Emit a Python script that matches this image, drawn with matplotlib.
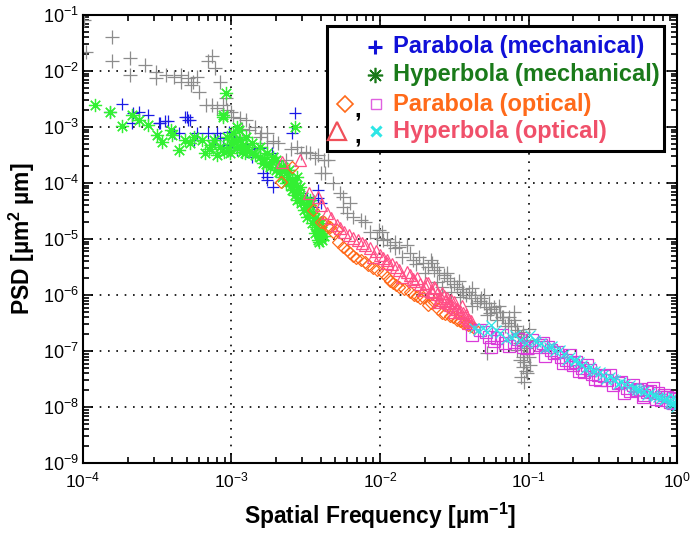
import numpy as np
import matplotlib
matplotlib.use("Agg")
import matplotlib.pyplot as plt
from matplotlib.patches import Rectangle

plt.rcParams['font.family'] = ['Liberation Sans', 'DejaVu Sans']
plt.rcParams['mathtext.fontset'] = 'custom'
plt.rcParams['mathtext.rm'] = 'Liberation Sans'
plt.rcParams['mathtext.bf'] = 'Liberation Sans:bold'

# values, as log10(frequency), log10(PSD)
gray_lf = [-3.99, -3.98, -3.805, -3.805, -3.68, -3.68, -3.58, -3.51, -3.51, -3.44, -3.39, -3.34, -3.34,
           -3.29, -3.26, -3.23, -3.27, -3.22, -3.16, -3.13, -3.11, -3.08, -3.04, -3.17, -3.13, -3.10,
           -3.06, -3.03, -3.00, -2.99, -2.94, -2.90, -2.84, -2.81, -2.76, -2.76, -2.69, -2.63, -2.56,
           -2.53, -2.47, -2.42, -2.38, -2.35, -2.40, -2.37, -2.32, -2.27, -2.25, -2.22, -2.25, -2.20,
           -2.18, -2.13, -2.10, -2.07, -2.01, -1.99, -2.02, -1.98, -1.93, -1.90, -1.87, -1.85, -1.82,
           -1.78, -1.74, -1.71, -1.70, -1.66, -1.65, -1.64, -1.62, -1.62, -1.58, -1.55, -1.52, -1.50,
           -1.46, -1.45, -1.42, -1.39, -1.38, -1.35, -1.32, -1.29, -1.28, -1.26, -1.23, -1.21, -1.18,
           -1.16, -1.14, -1.10, -1.08, -1.05, -1.03, -1.01, -1.28, -1.08, -1.06, -1.04, -1.01, -1.05,
           -1.00, -1.03, -0.99, -2.93, -2.88, -2.80, -2.72, -2.60, -2.50, -2.44,
           -1.95, -1.90, -1.80, -1.76, -1.68, -1.60, -1.57, -1.53, -1.48, -1.44, -1.40, -1.36, -1.33,
           -1.30, -1.27, -1.25, -1.22, -1.19, -1.17, -1.13, -1.12, -1.09, -1.07, -1.06, -1.04, -1.02,
           -1.01, -1.03, -1.00, -1.02, -1.04, -1.55, -1.47, -1.38, -1.30, -1.20, -1.10]
gray_lp = [-1.09, -1.67, -1.39, -1.82, -1.76, -2.07, -1.89, -2.01, -2.13, -2.07, -2.10, -2.07, -2.19,
           -2.13, -2.19, -2.10, -2.25, -2.37, -1.83, -1.74, -1.95, -2.19, -2.49, -2.61, -2.61, -2.67,
           -2.61, -2.70, -2.73, -2.82, -2.84, -2.87, -3.00, -3.18, -3.11, -3.29, -3.29, -3.59, -3.36,
           -3.46, -3.46, -3.50, -3.59, -3.59, -3.82, -3.82, -4.00, -4.18, -4.43, -4.54, -4.25, -4.36,
           -4.61, -4.66, -4.70, -4.88, -4.84, -4.88, -4.98, -5.02, -5.11, -5.16, -5.14, -5.32, -5.11,
           -5.38, -5.32, -5.43, -5.61, -5.38, -5.43, -5.55, -5.50, -5.77, -5.86, -5.70, -5.95, -5.80,
           -6.04, -5.90, -6.00, -6.05, -6.20, -6.14, -6.05, -6.21, -6.35, -6.32, -6.21, -6.45, -6.39,
           -6.55, -6.50, -6.45, -6.63, -6.75, -6.90, -6.80, -7.04, -6.98, -7.16, -7.29, -7.39, -7.46,
           -7.11, -7.55, -7.25, -3.04, -3.05, -3.10, -3.25, -3.40, -3.45, -3.55,
           -5.00, -5.05, -5.25, -5.45, -5.50, -5.60, -5.65, -5.75, -5.85, -5.95, -5.95, -6.00, -6.10,
           -6.15, -6.15, -6.25, -6.30, -6.30, -6.40, -6.40, -6.55, -6.55, -6.70, -6.85, -6.65, -6.95,
           -7.05, -7.20, -6.60, -7.35, -7.10, -5.60, -5.75, -5.88, -6.00, -6.20, -6.30]

par_mech_lf = [-3.74, -3.82, -3.67, -3.62, -3.56, -3.49, -3.45, -3.43, -3.30, -3.29, -3.35, -3.23, -3.16,
               -3.11, -3.10, -3.06, -2.98, -3.00, -3.39, -3.25, -3.66, -3.48, -3.31, -3.28, -3.08, -3.03,
               -2.96, -2.57, -2.59, -2.76, -2.72, -2.76, -2.79, -2.73, -2.54, -2.49, -2.45, -2.42, -2.40,
               -2.45, -2.42, -2.81, -2.86, -2.65, -2.61, -3.02, -2.90, -2.85, -2.70]
par_mech_lp = [-2.59, -2.73, -2.93, -2.73, -2.79, -2.93, -2.90, -2.90, -2.82, -2.88, -3.11, -3.10, -3.10,
               -3.23, -3.11, -3.32, -3.17, -3.41, -3.11, -3.23, -2.75, -2.93, -2.82, -2.88, -3.20, -3.36,
               -3.41, -2.75, -3.11, -3.89, -4.07, -3.95, -3.82, -3.46, -4.18, -4.25, -4.30, -4.27, -4.36,
               -4.43, -4.12, -3.38, -3.54, -3.71, -3.77, -3.09, -3.30, -3.40, -3.60]

hyp_mech_lf = [-3.92, -3.82, -3.74, -3.67, -3.62, -3.56, -3.50, -3.47, -3.41, -3.40, -3.35, -3.31, -3.28,
               -3.25, -3.20, -3.18, -3.13, -3.10, -3.06, -3.03, -3.02, -2.99, -2.96, -2.92, -2.91, -2.99,
               -2.94, -3.01, -2.90, -2.86, -2.81, -2.79, -2.74, -2.70, -2.66, -2.63, -2.59, -2.55, -2.53,
               -2.51, -2.49, -2.46, -2.42, -2.40, -2.42, -2.39, -2.57, -3.06, -2.61, -2.59, -2.56, -2.72,
               -2.76, -2.86, -2.90, -2.81, -2.65, -2.54, -2.47, -2.45, -2.42, -2.44, -2.52, -2.56, -2.63,
               -2.70, -2.96, -3.08, -3.12, -3.04,
               -2.88, -2.84, -2.78, -2.77, -2.73, -2.68, -2.67, -2.62, -2.60, -2.58, -2.57, -2.55, -2.50,
               -2.48, -2.47, -2.44, -2.43, -2.41, -2.40, -2.41, -2.38, -2.39, -3.00, -2.97, -2.93, -3.05,
               -3.15, -2.95]
hyp_mech_lp = [-2.61, -2.74, -2.98, -2.79, -2.88, -2.96, -3.14, -3.26, -3.05, -3.14, -3.41, -3.23, -3.29,
               -3.17, -3.23, -3.47, -3.32, -3.50, -2.79, -3.17, -3.38, -3.23, -3.38, -3.32, -3.46, -3.11,
               -3.23, -3.46, -3.36, -3.46, -3.54, -3.64, -3.71, -3.77, -3.89, -4.00, -4.12, -4.18, -4.36,
               -4.48, -4.61, -4.71, -4.84, -4.96, -5.02, -5.02, -3.00, -2.82, -3.77, -3.95, -3.89, -3.54,
               -3.46, -3.29, -3.18, -3.36, -3.71, -4.07, -4.30, -4.54, -4.66, -4.89, -4.25, -4.30, -3.82,
               -3.59, -3.00, -3.36, -3.23, -2.39,
               -3.42, -3.50, -3.58, -3.66, -3.62, -3.80, -3.72, -3.90, -4.05, -4.00, -4.22, -4.10, -4.38,
               -4.52, -4.40, -4.62, -4.78, -4.90, -4.72, -5.05, -4.95, -4.85, -3.30, -3.25, -3.45, -3.45,
               -3.40, -3.05]

par_opt_lo_lf = [-2.67, -2.59, -2.45, -2.40, -2.35, -2.29, -2.25, -2.38, -2.34, -2.32, -2.20, -2.16, -2.10,
                 -2.05, -1.98, -1.93, -1.91, -1.87, -1.80, -1.75, -1.71, -1.68, -1.64, -1.58, -1.53, -1.48,
                 -1.44, -1.41,
                 -2.28, -2.22, -2.18, -2.13, -2.08, -2.02, -1.95, -1.89, -1.84, -1.77, -1.73, -1.66, -1.61,
                 -1.56, -1.51, -1.46, -1.42, -1.39, -1.37]
par_opt_lo_lp = [-3.98, -3.71, -4.48, -4.70, -4.79, -4.84, -5.14, -4.70, -4.79, -4.88, -5.25, -5.34, -5.41,
                 -5.51, -5.61, -5.75, -5.79, -5.86, -5.95, -6.02, -6.04, -6.18, -6.13, -6.32, -6.38, -6.45,
                 -6.50, -6.54,
                 -5.05, -5.20, -5.30, -5.38, -5.46, -5.55, -5.68, -5.82, -5.90, -6.00, -6.06, -6.15, -6.25,
                 -6.33, -6.40, -6.46, -6.52, -6.56, -6.58]

hyp_opt_lo_lf = [-2.66, -2.54, -2.48, -2.42, -2.36, -2.40, -2.33, -2.29, -2.24, -2.18, -2.12, -2.07, -2.05,
                 -2.00, -1.95, -1.95, -1.89, -1.85, -1.82, -1.78, -1.75, -1.71, -1.68, -1.65, -1.63, -1.60,
                 -1.57, -1.54, -1.51, -1.48, -1.46, -1.44, -1.42, -1.40, -1.41, -1.55, -1.50, -1.45,
                 -2.27, -2.21, -2.15, -2.10, -2.03, -1.98, -1.92, -1.87, -1.80, -1.77, -1.73, -1.70, -1.66,
                 -1.62, -1.59, -1.56, -1.53, -1.49, -1.47, -1.43, -1.41, -1.39, -1.52, -1.58, -1.64, -1.69,
                 -1.61, -1.50]
hyp_opt_lo_lp = [-3.63, -3.59, -4.18, -4.25, -4.54, -4.39, -4.63, -4.75, -4.88, -4.98, -5.07, -5.16, -5.32,
                 -5.29, -5.38, -5.43, -5.50, -5.68, -5.59, -5.72, -5.70, -5.91, -5.79, -5.95, -5.88, -6.09,
                 -6.02, -6.14, -6.21, -6.25, -6.28, -6.32, -6.36, -6.45, -6.50, -6.05, -6.12, -6.20,
                 -4.80, -4.93, -5.02, -5.10, -5.22, -5.33, -5.45, -5.55, -5.65, -5.75, -5.80, -5.86, -5.92,
                 -5.98, -6.05, -6.10, -6.18, -6.24, -6.30, -6.40, -6.42, -6.47, -6.08, -5.97, -5.86, -5.78,
                 -6.12, -6.30]

par_opt_hi_lf = [-1.38, -1.29, -1.21, -1.16, -1.10, -1.04, -0.98, -0.92, -0.87, -0.81, -0.75, -0.70, -0.64,
                 -0.59, -0.53, -0.47, -0.40, -0.34, -0.27, -0.20, -0.13, -0.07, -0.03, -1.25, -0.72, -0.61,
                 -0.45, -0.30, -0.16, -0.11, -0.90, -0.83, -0.72, -0.63, -0.52, -0.36, -0.23, -0.11, -0.03,
                 -1.33, -1.27, -1.23, -1.18, -1.13, -1.07, -1.01, -0.95, -0.89, -0.85, -0.78, -0.77, -0.68,
                 -0.66, -0.57, -0.55, -0.49, -0.43, -0.38, -0.32, -0.25, -0.22, -0.18, -0.14, -0.09, -0.05,
                 -0.01]
par_opt_hi_lp = [-6.71, -6.66, -6.77, -6.86, -6.84, -6.93, -6.80, -6.89, -6.93, -7.02, -7.16, -7.25, -7.30,
                 -7.34, -7.43, -7.52, -7.57, -7.66, -7.70, -7.73, -7.75, -7.82, -7.84, -6.93, -7.07, -7.25,
                 -7.43, -7.61, -7.66, -7.82, -6.86, -7.04, -7.21, -7.38, -7.52, -7.75, -7.82, -7.88, -7.93,
                 -6.62, -6.75, -6.82, -6.72, -6.90, -6.78, -6.95, -6.92, -7.08, -6.98, -7.10, -7.22, -7.20,
                 -7.35, -7.40, -7.50, -7.45, -7.60, -7.55, -7.72, -7.68, -7.78, -7.72, -7.85, -7.78, -7.90,
                 -7.85]

hyp_opt_hi_lf = [-1.37, -1.31, -1.25, -1.19, -1.12, -1.06, -0.99, -0.92, -0.86, -0.79, -0.72, -0.66, -0.59,
                 -0.52, -0.45, -0.38, -0.32, -0.25, -0.18, -0.11, -0.05, -0.01, -0.03, -0.95, -0.82, -0.69,
                 -0.55, -0.42, -0.28, -0.15, -0.08, -0.02,
                 -1.34, -1.28, -1.22, -1.15, -1.09, -1.02, -0.96, -0.89, -0.84, -0.76, -0.74, -0.69, -0.64,
                 -0.62, -0.57, -0.50, -0.48, -0.43, -0.40, -0.35, -0.30, -0.27, -0.22, -0.20, -0.16, -0.13,
                 -0.09, -0.07, -0.04, -0.02, -0.01]
hyp_opt_hi_lp = [-6.59, -6.59, -6.54, -6.68, -6.75, -6.80, -6.71, -6.86, -6.93, -6.98, -7.11, -7.20, -7.29,
                 -7.38, -7.46, -7.55, -7.61, -7.70, -7.75, -7.84, -7.91, -8.00, -7.82, -6.84, -7.00, -7.18,
                 -7.36, -7.52, -7.66, -7.80, -7.86, -7.95,
                 -6.62, -6.65, -6.62, -6.78, -6.72, -6.85, -6.80, -6.95, -6.90, -7.05, -7.15, -7.15, -7.25,
                 -7.32, -7.35, -7.42, -7.50, -7.50, -7.58, -7.58, -7.65, -7.70, -7.72, -7.78, -7.78, -7.82,
                 -7.88, -7.84, -7.95, -7.90, -7.88]

legend_labels = ['Parabola (mechanical)', 'Hyperbola (mechanical)', 'Parabola (optical)', 'Hyperbola (optical)']


def p10(a):
    return 10.0 ** np.array(a)


fig = plt.figure(figsize=(6.91, 5.33), dpi=100)
ax = fig.add_axes([0.120, 0.131, 0.860, 0.841])

mk = dict(linestyle='none', fillstyle='none', markeredgewidth=0.9)
ax.plot(p10(gray_lf), p10(gray_lp), marker='+', ms=10, color='#8c8c8c', **mk)
ax.plot(p10(par_mech_lf), p10(par_mech_lp), marker='+', ms=9, color='#1a1ae6', **mk)
ax.plot(p10(hyp_mech_lf), p10(hyp_mech_lp), marker=(8, 2, 0), ms=9.5, color='#33f033', **mk)
ax.plot(p10(par_opt_lo_lf), p10(par_opt_lo_lp), marker='D', ms=6.5, color='#ff6a1a', **mk)
ax.plot(p10(hyp_opt_lo_lf), p10(hyp_opt_lo_lp), marker='^', ms=9, color='#ff4f86', **mk)
ax.plot(p10(par_opt_hi_lf), p10(par_opt_hi_lp), marker='s', ms=8, color='#d93ad9', **mk)
ax.plot(p10(hyp_opt_hi_lf), p10(hyp_opt_hi_lp), marker='x', ms=7, color='#2ee6e6', **mk)

ax.set_xscale('log')
ax.set_yscale('log')
ax.set_xlim(1e-4, 1)
ax.set_ylim(1e-9, 1e-1)
ax.grid(True, which='major', color='black', linestyle=(0, (1, 4)), linewidth=1.2)
ax.tick_params(which='both', direction='in', top=True, right=True, width=1.2)
ax.tick_params(which='major', length=7)
ax.tick_params(which='minor', length=4)
ax.tick_params(axis='x', pad=5, labelsize=12.5)
ax.tick_params(axis='y', pad=3, labelsize=13)
for s in ax.spines.values():
    s.set_linewidth(1.5)

ax.set_xlabel('Spatial Frequency [µm$^{\\mathbf{-1}}$]', fontsize=16.5, fontweight='bold', labelpad=8)
ax.set_ylabel('PSD [µm$^{\\mathbf{2}}$ µm]', fontsize=16.5, fontweight='bold', labelpad=4)

# legend box drawn by hand
ax.add_patch(Rectangle((0.411, 0.696), 0.567, 0.279, transform=ax.transAxes,
                       facecolor='white', edgecolor='black', linewidth=2.2, zorder=5))
tcol = ['#1010d8', '#1a7a1a', '#ff6a1a', '#f0506a']
rows_y = [0.929, 0.866, 0.801, 0.741]
tr = ax.transAxes
ax.plot([0.492], [rows_y[0]], marker='+', ms=10, mew=2.2, color='#1010d8', transform=tr, zorder=6)
ax.plot([0.492], [rows_y[1]], marker=(8, 2, 0), ms=11, mew=1.2, color='#1a7a1a', transform=tr, zorder=6)
ax.plot([0.441], [rows_y[2]], marker='D', ms=8, mew=1.2, fillstyle='none', color='#ff6a1a', transform=tr, zorder=6)
ax.plot([0.493], [rows_y[2]], marker='s', ms=7, mew=1.0, fillstyle='none', color='#e060e0', transform=tr, zorder=6)
ax.plot([0.428], [rows_y[3]], marker='^', ms=13, mew=1.6, fillstyle='none', color='#f0505a', transform=tr, zorder=6)
ax.plot([0.493], [rows_y[3]], marker='x', ms=7, mew=2.2, color='#2ee6e6', transform=tr, zorder=6)
for yy in rows_y[2:]:
    ax.text(0.462, yy - 0.012, ',', transform=tr, fontsize=17, fontweight='bold', ha='center',
            va='center', zorder=6)
for lab, c, yy in zip(legend_labels, tcol, rows_y):
    ax.text(0.522, yy, lab, transform=tr, color=c, fontsize=17, fontweight='bold',
            ha='left', va='center', zorder=6)

fig.savefig('out.png', dpi=100)
